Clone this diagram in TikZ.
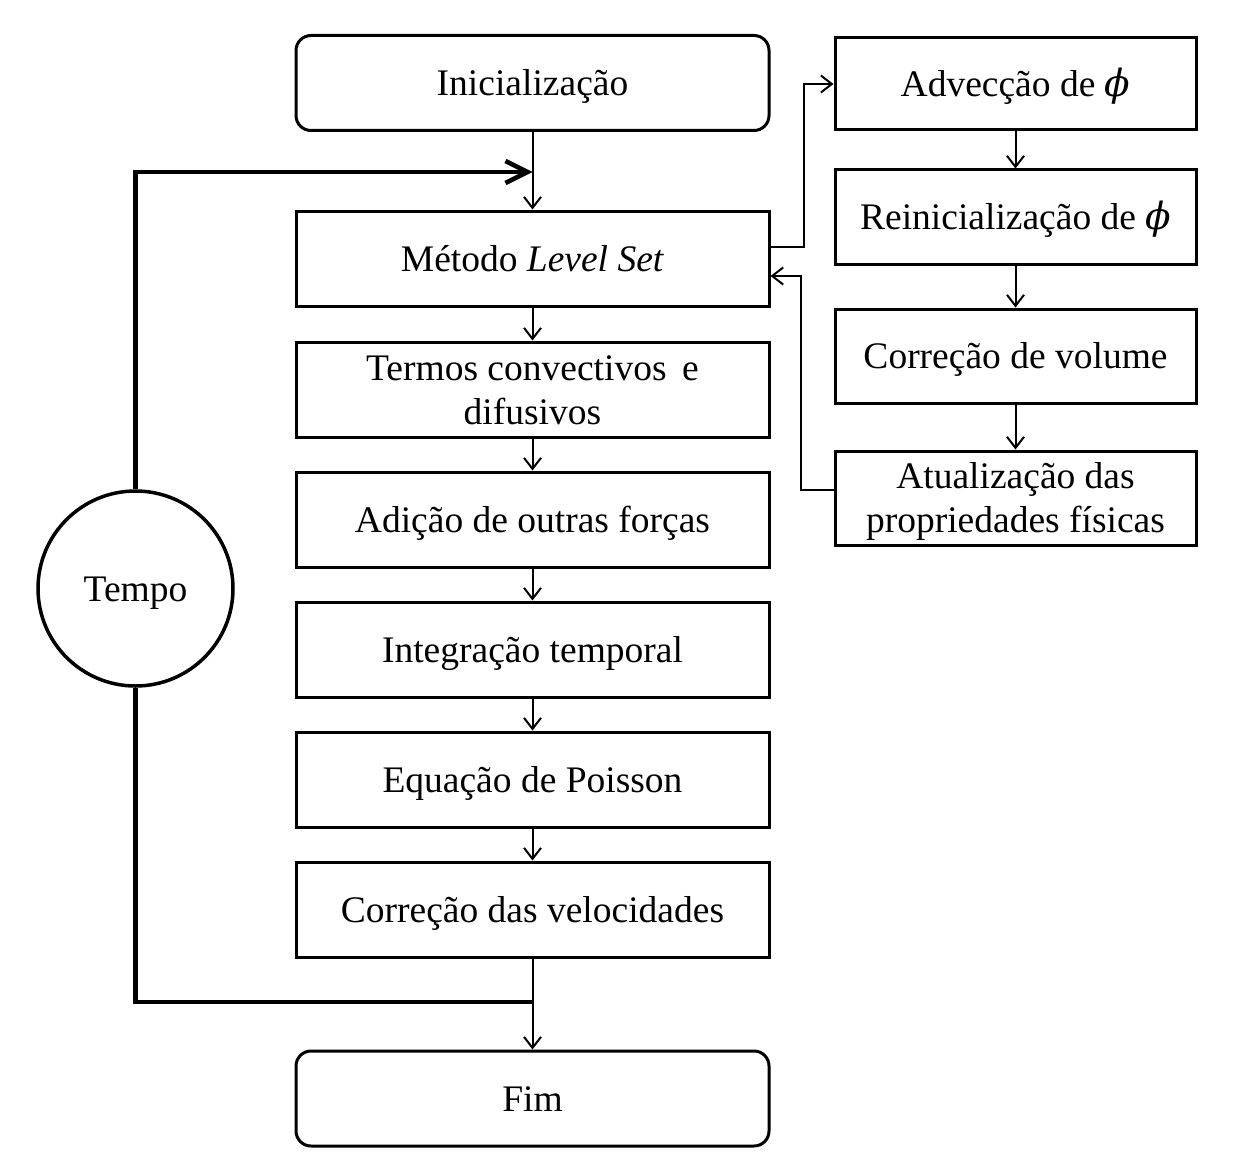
\documentclass[tikz,border=0pt]{standalone}
\usepackage{fontspec}
\setmainfont{Liberation Serif}
\newfontfamily\phifont{DejaVu Serif}
\newcommand{\phisym}{{\phifont\itshape ϕ}}
\usetikzlibrary{arrows.meta}
\begin{document}
\begin{tikzpicture}[x=1pt,y=-1pt,
  txt/.style={font=\fontsize{37.5}{44}\selectfont, align=center, inner sep=0pt,
    text height=33.4pt, text depth=8.1pt},
  twoline/.style={text height=77.4pt},
  mainbox/.style={txt, draw, line width=3pt, minimum width=473pt, minimum height=95pt},
  roundbox/.style={mainbox, rounded corners=15pt},
  sidebox/.style={txt, draw, line width=3pt, minimum width=361pt, minimum height=94pt},
  conn/.style={line width=2pt, -{Straight Barb[length=11pt,width=17pt]}},
  loopline/.style={line width=4.5pt},
  looparrow/.style={line width=4.5pt, -{Straight Barb[length=22pt,width=22pt]}}
]
\useasboundingbox (0,0) rectangle (1244,1169);
\node[roundbox] (init) at (532.5,83) {Inicialização};
\node[mainbox] (ls) at (532.5,258.5) {Método \textit{Level Set}};
\node[mainbox, twoline] (tc) at (532.5,389.5) {Termos convectivos\, e\\difusivos};
\node[mainbox] (ad) at (532.5,519.5) {Adição de outras forças};
\node[mainbox] (it) at (532.5,649.5) {Integração temporal};
\node[mainbox] (ep) at (532.5,779.5) {Equação de Poisson};
\node[mainbox] (cv) at (532.5,909.5) {Correção das velocidades};
\node[roundbox] (fim) at (532.5,1098.5) {Fim};

\node[sidebox, minimum height=92pt] (adv) at (1015.5,84) {Advecção de \phisym};
\node[sidebox] (rei) at (1015.5,217) {Reinicialização de \phisym};
\node[sidebox] (cvol) at (1015.5,356) {Correção de volume};
\node[sidebox, twoline] (atu) at (1015.5,498) {Atualização das\\propriedades físicas};

\node[txt, draw, circle, line width=3.5pt, minimum size=195pt] (tempo) at (135.5,588.5) {Tempo};

\draw[conn] (init.south) -- (ls.north);
\draw[conn] (ls.south) -- (tc.north);
\draw[conn] (tc.south) -- (ad.north);
\draw[conn] (ad.south) -- (it.north);
\draw[conn] (it.south) -- (ep.north);
\draw[conn] (ep.south) -- (cv.north);
\draw[conn] (cv.south) -- (fim.north);

\draw[conn] (adv.south) -- (rei.north);
\draw[conn] (rei.south) -- (cvol.north);
\draw[conn] (cvol.south) -- (atu.north);

\coordinate (lsout) at (ls.east |- 0,247);
\coordinate (lsin) at (ls.east |- 0,276);
\coordinate (atuout) at (atu.west |- 0,490);
\draw[conn] (lsout) -- ++(33,0) |- (adv.west);
\draw[conn] (atuout) -- ++(-33,0) |- (lsin);

\coordinate (topjoin) at (init.south |- 0,172);
\coordinate (botjoin) at (cv.south |- 0,1002);
\draw[looparrow] (tempo.north) |- (topjoin);
\draw[loopline] (tempo.south) |- (botjoin);
\end{tikzpicture}
\end{document}
